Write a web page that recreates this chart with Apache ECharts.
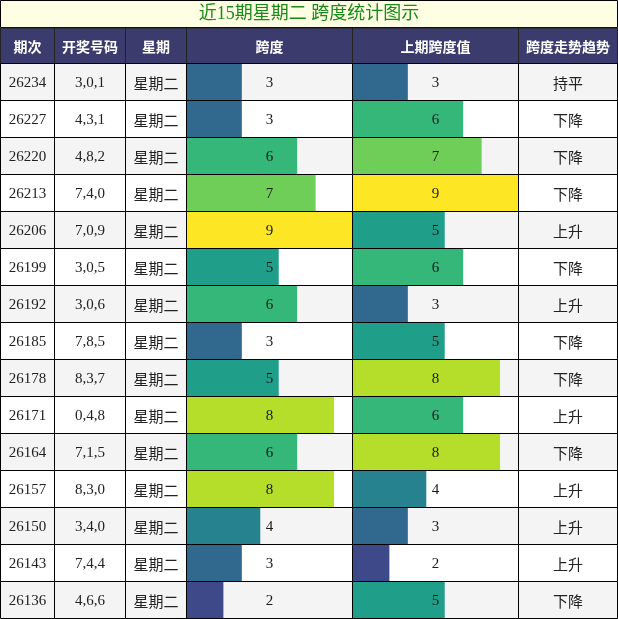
<!DOCTYPE html>
<html>
<head>
<meta charset="utf-8">
<script src="https://cdn.jsdelivr.net/npm/echarts@6/dist/echarts.min.js"></script>
<style>
html,body{margin:0;padding:0;background:#fff;}
#main{width:618px;height:619px;}
</style>
</head>
<body>
<div id="main"></div>
<script>
// ---- data ----
const titleText = '近15期星期二 跨度统计图示';
const headers = ['期次', '开奖号码', '星期', '跨度', '上期跨度值', '跨度走势趋势'];
const periods = ['26234','26227','26220','26213','26206','26199','26192','26185','26178','26171','26164','26157','26150','26143','26136'];
const numbers = ['3,0,1','4,3,1','4,8,2','7,4,0','7,0,9','3,0,5','3,0,6','7,8,5','8,3,7','0,4,8','7,1,5','8,3,0','3,4,0','7,4,4','4,6,6'];
const weekdays = ['星期二','星期二','星期二','星期二','星期二','星期二','星期二','星期二','星期二','星期二','星期二','星期二','星期二','星期二','星期二'];
const spans = [3,3,6,7,9,5,6,3,5,8,6,8,4,3,2];
const prevSpans = [3,6,7,9,5,6,3,5,8,6,8,4,3,2,5];
const trends = ['持平','下降','下降','下降','上升','下降','上升','下降','下降','上升','下降','上升','上升','上升','下降'];
const spanMax = 9;
const spanColors = ['#440154','#482878','#3e4989','#31688e','#26828e','#1f9e89','#35b779','#6ece58','#b5de2b','#fde725'];
const rowColors = ['#f4f4f4', '#ffffff'];
const headerColor = '#3c3b6e';

// ---- layout ----
const edges = [0.5, 54.5, 125.5, 186.5, 352.5, 518.5, 617.5];
const headTop = 28, headH = 35.5;
const bodyTop = 63.5, bodyH = 555;
const serif = "'Liberation Serif','Times New Roman','Noto Sans CJK SC',serif";
const cjk = "'Noto Sans CJK SC','Noto Sans',sans-serif";

const columns = [
  {type: 'text', values: periods, font: serif, size: 15},
  {type: 'text', values: numbers, font: serif, size: 15},
  {type: 'text', values: weekdays, font: cjk, size: 15},
  {type: 'bar', values: spans},
  {type: 'bar', values: prevSpans},
  {type: 'text', values: trends, font: cjk, size: 15}
];

const grid = [], xAxis = [], yAxis = [], series = [];
const hiddenAxis = {axisLine: {show: false}, axisTick: {show: false}, axisLabel: {show: false}, splitLine: {show: false}};

// body columns
columns.forEach((col, k) => {
  const w = edges[k + 1] - edges[k];
  grid.push({left: edges[k], top: bodyTop, width: w, height: bodyH, show: false});
  xAxis.push(Object.assign({gridIndex: k, type: 'value', min: 0, max: col.type === 'bar' ? spanMax : 1, show: false}, hiddenAxis));
  yAxis.push({gridIndex: k, type: 'category', data: periods, inverse: true, show: false});
  const isBar = col.type === 'bar';
  series.push({
    type: 'custom', xAxisIndex: k, yAxisIndex: k,
    data: col.values.map((v, i) => [isBar ? v : 0, i]),
    encode: {x: 0, y: 1},
    renderItem: function (params, api) {
      const i = api.value(1);
      const cs = params.coordSys;
      const c0 = api.coord([0, i]);
      const h = api.size([0, 1])[1];
      const top = c0[1] - h / 2;
      const children = [{
        type: 'rect', shape: {x: cs.x, y: top, width: cs.width, height: h},
        style: {fill: rowColors[i % 2]}
      }];
      let label, font = serif, size = 15, color = '#222';
      if (isBar) {
        const v = api.value(0);
        const end = api.coord([v, i])[0];
        children.push({
          type: 'rect', shape: {x: cs.x, y: top, width: end - cs.x, height: h},
          style: {fill: spanColors[v]}
        });
        label = String(v);
        color = '#1a1a1a';
      } else {
        label = col.values[params.dataIndex];
        font = col.font; size = col.size;
      }
      children.push({
        type: 'text', x: cs.x + cs.width / 2, y: c0[1] + 1,
        style: {text: label, fill: color, font: size + 'px ' + font, align: 'center', verticalAlign: 'middle'}
      });
      children.push({
        type: 'rect', shape: {x: cs.x, y: top, width: cs.width, height: h},
        style: {fill: null, stroke: '#000', lineWidth: 1}, z2: 10
      });
      return {type: 'group', children: children};
    }
  });
});

// header cells
headers.forEach((name, k) => {
  const gi = columns.length + k;
  const w = edges[k + 1] - edges[k];
  grid.push({left: edges[k], top: headTop, width: w, height: headH, show: false});
  xAxis.push(Object.assign({gridIndex: gi, type: 'value', min: 0, max: 1, show: false}, hiddenAxis));
  yAxis.push({gridIndex: gi, type: 'category', data: [name], show: false});
  series.push({
    type: 'custom', xAxisIndex: gi, yAxisIndex: gi,
    data: [[0, 0]], encode: {x: 0, y: 1},
    renderItem: function (params, api) {
      const cs = params.coordSys;
      const c0 = api.coord([0, 0]);
      return {type: 'group', children: [
        {type: 'rect', shape: {x: cs.x, y: cs.y, width: cs.width, height: cs.height},
         style: {fill: headerColor, stroke: '#222', lineWidth: 1}},
        {type: 'text', x: cs.x + cs.width / 2, y: c0[1] + 0.5,
         style: {text: name, fill: '#ffffff', font: 'bold 14px ' + cjk, align: 'center', verticalAlign: 'middle'}}
      ]};
    }
  });
});

const chart = echarts.init(document.getElementById('main'), null, {renderer: 'canvas'});
chart.setOption({
  animation: false,
  backgroundColor: '#ffffff',
  title: {
    text: titleText, left: 'center', top: 1, padding: 0,
    textStyle: {color: '#1a8a1a', fontSize: 18, fontWeight: 'normal', fontFamily: serif, lineHeight: 26}
  },
  graphic: [{
    type: 'rect', z: -1,
    shape: {x: 0.5, y: 0.5, width: 617, height: 27},
    style: {fill: '#fefee2', stroke: '#000', lineWidth: 1}
  }],
  grid: grid, xAxis: xAxis, yAxis: yAxis, series: series
});
</script>
</body>
</html>
